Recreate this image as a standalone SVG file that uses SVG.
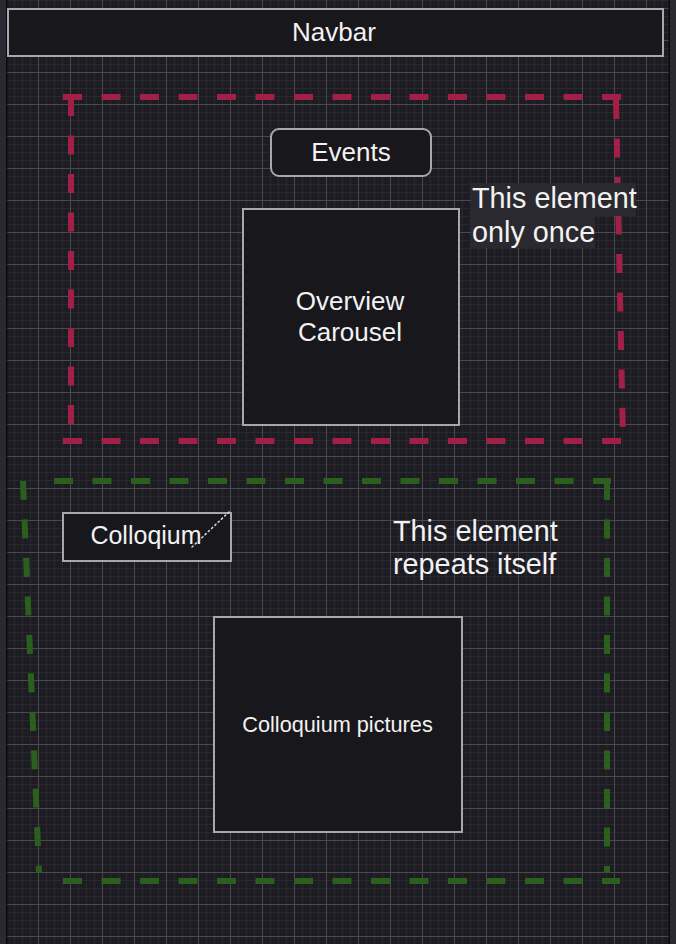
<svg xmlns="http://www.w3.org/2000/svg" width="676" height="944" viewBox="0 0 676 944">
  <defs>
    <pattern id="minor" x="6" y="8" width="8" height="8" patternUnits="userSpaceOnUse">
      <path d="M0 0.5H8M0.5 0V8" stroke="#29282f" stroke-width="1" fill="none"/>
    </pattern>
    <pattern id="major" x="6" y="8" width="32" height="32" patternUnits="userSpaceOnUse">
      <path d="M0 0.5H32M0.5 0V32" stroke="#4a4950" stroke-width="1" fill="none"/>
    </pattern>
  </defs>
  <style>
    .node { fill: #18171c; stroke: #a8a8a8; stroke-width: 2; }
    .label { font-family: "Liberation Sans", Arial, Helvetica, sans-serif; fill: #f2f2f2; }
    .red { stroke: #a21f48; stroke-width: 6; fill: none; stroke-dasharray: 19 19.5; }
    .green { stroke: #2b5f1d; stroke-width: 6; fill: none; stroke-dasharray: 19 19.5; }
  </style>

  <!-- frame / background -->
  <rect x="0" y="0" width="676" height="944" fill="#2a2932"/>
  <rect x="6" y="0" width="664" height="944" fill="#0c0c0f"/>
  <rect x="7.5" y="0" width="661" height="944" fill="#1d1c23"/>
  <rect x="7.5" y="0" width="661" height="944" fill="url(#minor)"/>
  <rect x="7.5" y="0" width="661" height="944" fill="url(#major)"/>

  <!-- group outlines -->
  <g id="once-region">
    <line class="red" x1="63" y1="97" x2="622" y2="97"/>
    <line class="red" x1="71" y1="97" x2="71" y2="441"/>
    <line class="red" x1="616" y1="100" x2="623" y2="441"/>
    <line class="red" x1="63" y1="441" x2="626" y2="441"/>
  </g>
  <g id="repeat-region">
    <line class="green" x1="54" y1="481" x2="611" y2="481"/>
    <line class="green" x1="23" y1="481" x2="39" y2="873"/>
    <line class="green" x1="607" y1="481" x2="607" y2="873"/>
    <line class="green" x1="63" y1="881" x2="620" y2="881"/>
  </g>

  <g id="navbar">
    <rect class="node" x="8" y="9" width="655" height="47"/>
    <text class="label" x="334" y="41" font-size="26" text-anchor="middle">Navbar</text>
  </g>

  <g id="events">
    <rect class="node" x="271" y="129" width="160" height="47" rx="8" ry="8"/>
    <text class="label" x="351" y="161" font-size="26" text-anchor="middle">Events</text>
  </g>

  <g id="overview-carousel">
    <rect class="node" x="243" y="209" width="216" height="216"/>
    <text class="label" x="350" y="310" font-size="26" text-anchor="middle">Overview</text>
    <text class="label" x="350" y="341" font-size="26" text-anchor="middle">Carousel</text>
  </g>

  <g id="note-once">
    <rect x="471" y="183" width="165" height="33" fill="#2a2930"/>
    <rect x="471" y="216" width="124" height="32" fill="#2a2930"/>
    <text class="label" x="472" y="208" font-size="28.8">This element</text>
    <text class="label" x="472" y="242" font-size="28.8">only once</text>
  </g>

  <g id="colloqium">
    <rect class="node" x="63" y="513" width="168" height="48"/>
    <text class="label" x="146" y="544" font-size="25" text-anchor="middle">Colloqium</text>
  </g>

  <g id="note-repeat">
    <text class="label" x="393" y="541" font-size="28.8">This element</text>
    <text class="label" x="393" y="574" font-size="28.8">repeats itself</text>
  </g>

  <g id="colloquium-pictures">
    <rect class="node" x="214" y="617" width="248" height="215"/>
    <text class="label" x="337.5" y="732" font-size="21.7" text-anchor="middle">Colloquium pictures</text>
  </g>

  <g id="connectors">
    <line x1="192" y1="547" x2="230" y2="511" stroke="#d8d8d8" stroke-width="1.5" stroke-dasharray="1.5 3" stroke-linecap="round"/>
  </g>
</svg>
